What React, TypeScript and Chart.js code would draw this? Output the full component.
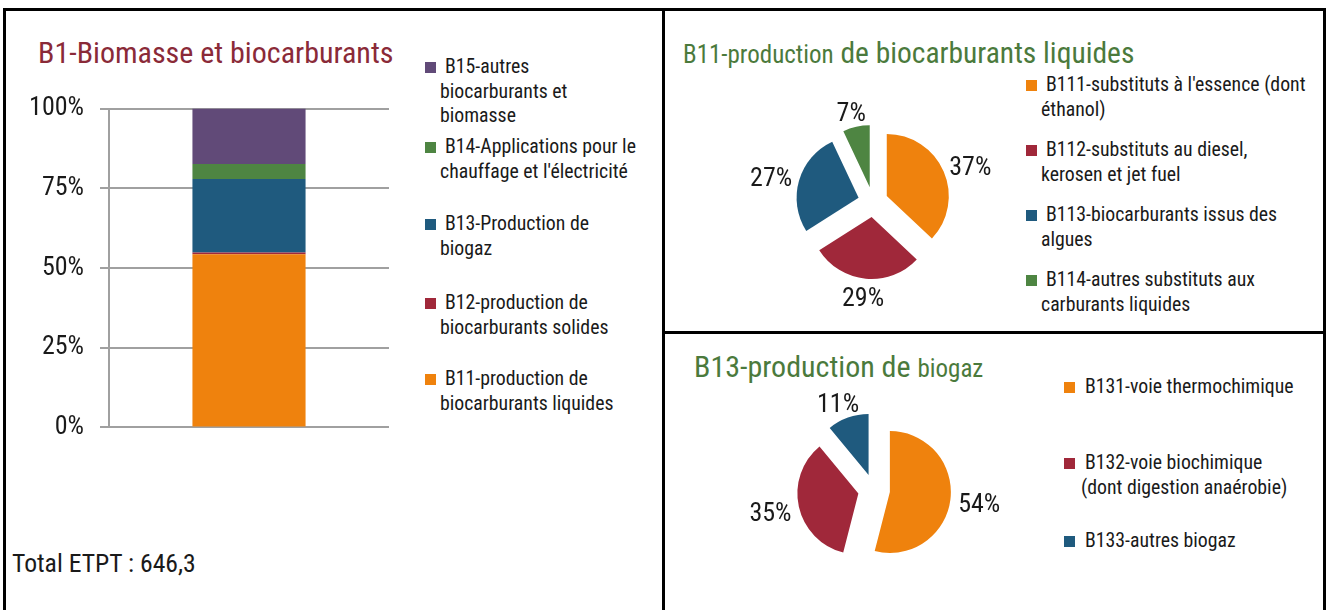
import React, { useEffect, useRef } from 'react';
import { Chart, registerables } from 'chart.js';

Chart.register(...registerables);

const FAMILY = 'Roboto';
const TEXT = '#1a1a1a';

// ---------- Data: B1 stacked bar ----------
const barCategories = ['B1'];
const barSeriesNames = [
  'B11-production de biocarburants liquides',
  'B12-production de biocarburants solides',
  'B13-Production de biogaz',
  "B14-Applications pour le chauffage et l'électricité",
  'B15-autres biocarburants et biomasse',
];
const barLegendLines = [
  'B11-production de\nbiocarburants liquides',
  'B12-production de\nbiocarburants solides',
  'B13-Production de\nbiogaz',
  "B14-Applications pour le\nchauffage et l'électricité",
  'B15-autres\nbiocarburants et\nbiomasse',
];
const barValues = [54.3, 0.6, 23.0, 4.7, 17.4];
const barColors = ['#EF820D', '#A0283A', '#1F5A7E', '#4E8542', '#614A78'];
const yTickValues = [0, 25, 50, 75, 100];
const yTickLabels = ['0%', '25%', '50%', '75%', '100%'];
const totalText = 'Total ETPT : 646,3';

// ---------- Data: B11 pie ----------
const pie1Labels = [
  "B111-substituts à l'essence (dont\néthanol)",
  'B112-substituts au diesel,\nkerosen et jet fuel',
  'B113-biocarburants issus des\nalgues',
  'B114-autres substituts aux\ncarburants liquides',
];
const pie1Values = [37, 29, 27, 7];
const pie1Colors = ['#EF820D', '#A0283A', '#1F5A7E', '#4E8542'];

// ---------- Data: B13 pie ----------
const pie2Labels = [
  'B131-voie thermochimique',
  'B132-voie biochimique\n(dont digestion anaérobie)',
  'B133-autres biogaz',
];
const pie2Values = [54, 35, 11];
const pie2Colors = ['#EF820D', '#A0283A', '#1F5A7E'];

// ---------- Layout (styles only) ----------
const leftLegendTops = [367, 291, 212, 135, 55]; // by series index (B11..B15)
const pie1LegendTops = [73, 138, 203, 268];
const pie2LegendTops = [375, 451, 529];

// draws each arc pushed outward along its mid angle (exploded pie)
const explode = {
  id: 'explode',
  beforeDatasetDraw(chart: any, args: any, opts: any) {
    const { ctx } = chart;
    args.meta.data.forEach((arc: any) => {
      const { startAngle, endAngle } = arc.getProps(['startAngle', 'endAngle'], true);
      const mid = (startAngle + endAngle) / 2;
      ctx.save();
      ctx.translate(Math.cos(mid) * opts.distance, Math.sin(mid) * opts.distance);
      arc.draw(ctx);
      ctx.restore();
    });
    return false;
  },
};

const outsideLabels = {
  id: 'outsideLabels',
  afterDatasetsDraw(chart: any, _args: any, opts: any) {
    const { ctx } = chart;
    const meta = chart.getDatasetMeta(0);
    const data = chart.data.datasets[0].data as number[];
    const total = data.reduce((a, b) => a + b, 0);
    ctx.save();
    ctx.font = `condensed ${opts.size}px ${FAMILY}`;
    ctx.fillStyle = TEXT;
    ctx.textAlign = 'center';
    ctx.textBaseline = 'middle';
    meta.data.forEach((arc: any, i: number) => {
      const { x, y, startAngle, endAngle, outerRadius } = arc.getProps(
        ['x', 'y', 'startAngle', 'endAngle', 'outerRadius'],
        true
      );
      const mid = (startAngle + endAngle) / 2;
      const ux = Math.cos(mid);
      const uy = Math.sin(mid);
      const text = Math.round((data[i] / total) * 100) + '%';
      const w = ctx.measureText(text).width;
      const h = opts.textHeight;
      const r = outerRadius + opts.distance + opts.gap;
      ctx.fillText(text, x + ux * r + (ux * w) / 2, y + uy * r + (uy * h) / 2 + opts.dy);
    });
    ctx.restore();
  },
};

function BarChart() {
  const ref = useRef<HTMLCanvasElement>(null);
  useEffect(() => {
    const chart = new Chart(ref.current!, {
      type: 'bar',
      data: {
        labels: barCategories,
        datasets: barSeriesNames.map((name, i) => ({
          label: name,
          data: [barValues[i]],
          backgroundColor: barColors[i],
          borderWidth: 0,
          barPercentage: 0.404,
          categoryPercentage: 1,
        })),
      },
      options: {
        animation: false,
        responsive: true,
        maintainAspectRatio: false,
        events: [],
        layout: { padding: { top: 5, bottom: 5, left: 0, right: 11 } },
        plugins: { legend: { display: false }, tooltip: { enabled: false } },
        scales: {
          x: { stacked: true, display: false },
          y: {
            stacked: true,
            min: 0,
            max: 100,
            afterFit: (s: any) => {
              s.width = 99;
            },
            ticks: {
              stepSize: 25,
              padding: 16,
              font: { family: FAMILY, size: 26, weight: 'condensed' as any },
              color: TEXT,
              callback: (v: any) => yTickLabels[yTickValues.indexOf(Number(v))],
            },
            grid: { color: '#A0A0A0', lineWidth: 2, tickLength: 9 },
            border: { display: true, color: '#A0A0A0', width: 2 },
          },
        },
      },
    });
    return () => chart.destroy();
  }, []);
  return (
    <div style={{ position: 'absolute', left: 10, top: 77, width: 390, height: 382 }}>
      <canvas ref={ref} />
    </div>
  );
}

function PieChart(props: {
  labels: string[];
  values: number[];
  colors: string[];
  radius: number;
  explodeBy: number;
  left: number;
  top: number;
}) {
  const ref = useRef<HTMLCanvasElement>(null);
  useEffect(() => {
    const chart = new Chart(ref.current!, {
      type: 'pie',
      data: {
        labels: props.labels,
        datasets: [
          {
            data: props.values,
            backgroundColor: props.colors,
            borderWidth: 0,
          },
        ],
      },
      options: {
        animation: false,
        responsive: true,
        maintainAspectRatio: false,
        events: [],
        radius: props.radius,
        layout: { padding: 0 },
        plugins: {
          legend: { display: false },
          tooltip: { enabled: false },
          explode: { distance: props.explodeBy },
          outsideLabels: { size: 26, textHeight: 18, gap: 8, distance: props.explodeBy, dy: 4 },
        } as any,
      } as any,
      plugins: [explode, outsideLabels],
    });
    return () => chart.destroy();
  }, []);
  return (
    <div style={{ position: 'absolute', left: props.left, top: props.top, width: 280, height: 280 }}>
      <canvas ref={ref} />
    </div>
  );
}

function LegendItem(props: {
  text: string;
  color: string;
  top: number;
  squareX: number;
  textX: number;
  contX: number;
}) {
  return (
    <>
      <div
        style={{
          position: 'absolute',
          left: props.squareX,
          top: props.top + 12 - 5.5,
          width: 11,
          height: 11,
          background: props.color,
        }}
      />
      <div
        style={{
          position: 'absolute',
          left: props.contX,
          top: props.top,
          fontSize: 19.8,
          lineHeight: '24.5px',
          whiteSpace: 'pre',
          textIndent: props.textX - props.contX,
          color: TEXT,
        }}
      >
        {props.text}
      </div>
    </>
  );
}

const line = (l: number, t: number, w: number, h: number) => (
  <div style={{ position: 'absolute', left: l, top: t, width: w, height: h, background: '#000', zIndex: 5 }} />
);

export default function App() {
  return (
    <div
      style={{
        position: 'absolute',
        left: 0,
        top: 0,
        width: 1327,
        height: 610,
        overflow: 'hidden',
        background: '#fff',
        fontFamily: FAMILY,
        fontStretch: 'condensed',
        color: TEXT,
      }}
    >
      {line(3, 8, 1323, 3)}
      {line(3, 8, 3, 610)}
      {line(662, 8, 3, 610)}
      {line(1323, 8, 3, 610)}
      {line(662, 331, 664, 3)}

      {/* Left panel */}
      <div
        style={{
          position: 'absolute',
          left: 38,
          top: 63 - 0.842 * 30,
          fontSize: 30,
          lineHeight: 1,
          color: '#8A2A38',
          whiteSpace: 'nowrap',
        }}
      >
        B1-Biomasse et biocarburants
      </div>
      <BarChart />
      {barLegendLines.map((t, i) => (
        <LegendItem
          key={i}
          text={t}
          color={barColors[i]}
          top={leftLegendTops[i]}
          squareX={425}
          textX={445}
          contX={440}
        />
      ))}
      <div
        style={{
          position: 'absolute',
          left: 12,
          top: 573 - 0.842 * 25.7,
          fontSize: 25.7,
          lineHeight: 1,
          whiteSpace: 'nowrap',
        }}
      >
        {totalText}
      </div>

      {/* Right top panel */}
      <div
        style={{
          position: 'absolute',
          left: 683,
          top: 64 - 0.842 * 29.5,
          fontSize: 29.5,
          lineHeight: 1,
          color: '#4B7A3C',
          whiteSpace: 'nowrap',
        }}
      >
        <span style={{ fontSize: 25 }}>B11-production</span> de biocarburants liquides
      </div>
      <PieChart labels={pie1Labels} values={pie1Values} colors={pie1Colors} radius={62} explodeBy={15} left={733} top={62} />
      {pie1Labels.map((t, i) => (
        <LegendItem
          key={i}
          text={t}
          color={pie1Colors[i]}
          top={pie1LegendTops[i]}
          squareX={1026}
          textX={1046}
          contX={1041}
        />
      ))}

      {/* Right bottom panel */}
      <div
        style={{
          position: 'absolute',
          left: 694,
          top: 377 - 0.842 * 30,
          fontSize: 30,
          lineHeight: 1,
          color: '#4B7A3C',
          whiteSpace: 'nowrap',
        }}
      >
        B13-production de <span style={{ fontSize: 25 }}>biogaz</span>
      </div>
      <PieChart labels={pie2Labels} values={pie2Values} colors={pie2Colors} radius={61} explodeBy={16} left={734} top={350} />
      {pie2Labels.map((t, i) => (
        <LegendItem
          key={i}
          text={t}
          color={pie2Colors[i]}
          top={pie2LegendTops[i]}
          squareX={1064}
          textX={1085}
          contX={1081}
        />
      ))}
    </div>
  );
}
